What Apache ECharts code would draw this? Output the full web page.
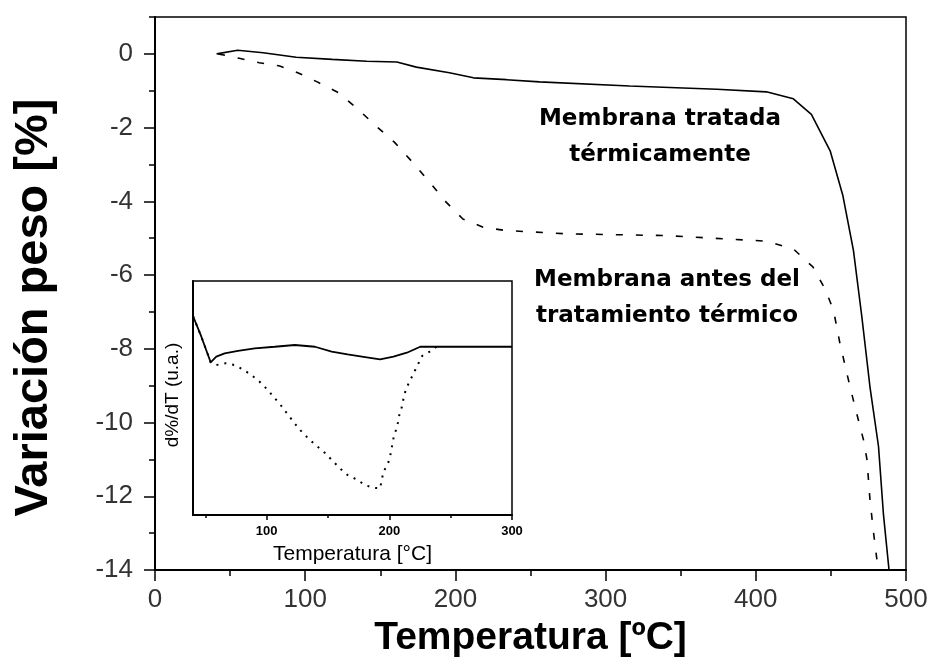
<!DOCTYPE html>
<html>
<head>
<meta charset="utf-8">
<script src="https://cdn.jsdelivr.net/npm/echarts@6/dist/echarts.min.js"></script>
<style>
  html, body { margin: 0; padding: 0; background: #fff; }
  #chart { width: 933px; height: 670px; }
</style>
</head>
<body>
<div id="chart"></div>
<script>
// Termogravimetría: variación de peso frente a temperatura
const tempTratada = [41, 55, 72, 94, 118, 141, 161, 174, 196, 212, 234, 256, 316, 374, 407, 425, 437, 449.5, 458, 465, 470.6, 476, 481.7, 485, 488.7];
const pesoTratada = [0, 0.1, 0.03, -0.09, -0.15, -0.2, -0.22, -0.36, -0.51, -0.65, -0.7, -0.76, -0.87, -0.96, -1.03, -1.22, -1.64, -2.63, -3.85, -5.33, -7.13, -9.03, -10.65, -12.5, -14];

const tempAntes = [42, 56, 69.5, 83, 95, 108, 122, 134, 147, 159.5, 171.7, 183, 194, 205, 218.4, 233, 274, 340.6, 407, 425, 438, 446, 451.7, 456, 461.7, 466, 471.7, 474, 476, 478.4, 480.6];
const pesoAntes = [0, -0.12, -0.24, -0.33, -0.51, -0.76, -1.05, -1.46, -1.95, -2.4, -2.95, -3.49, -4.03, -4.48, -4.7, -4.79, -4.88, -4.93, -5.08, -5.29, -5.78, -6.37, -6.95, -7.85, -8.85, -9.57, -10.47, -11.0, -12.09, -12.99, -13.71];

// Derivada (d%/dT), unidades arbitrarias
const insetTempTratada = [40, 46.8, 54.4, 59, 65.8, 76.7, 90.3, 106.6, 123, 139.4, 153, 166, 181.6, 192.5, 203.4, 214.3, 225.2, 300];
const insetTratada = [-2.99, -4.76, -6.95, -6.47, -6.18, -5.98, -5.75, -5.62, -5.47, -5.62, -6.04, -6.28, -6.52, -6.69, -6.47, -6.13, -5.62, -5.62];

const insetTempAntes = [40, 46.8, 54.4, 59, 67, 73.8, 80.6, 87.5, 94.3, 100.5, 106, 112, 117, 122.4, 127.8, 134.4, 140.6, 147.4, 153.7, 160.3, 166.5, 173.4, 180.2, 187, 192.5, 195.2, 198.8, 200.7, 203.4, 205.4, 207, 208.3, 210.3, 211.6, 213.5, 216.5, 219.8, 223.4, 226.7, 232.9, 239.7];
const insetAntes = [-2.99, -4.76, -6.95, -7.18, -7.03, -7.18, -7.55, -8.03, -8.61, -9.26, -9.94, -10.68, -11.37, -12.11, -12.79, -13.5, -14.08, -14.68, -15.36, -16.07, -16.64, -16.95, -17.44, -17.67, -17.72, -16.3, -15.64, -14.96, -13.44, -12.74, -12.11, -11.39, -10.74, -10.03, -9.26, -8.59, -7.89, -7.12, -6.41, -6.04, -5.53];

// Marcas de los ejes
const xMajor = [0, 100, 200, 300, 400, 500];
const yMajor = [-14, -12, -10, -8, -6, -4, -2, 0];
const insetXMajor = [100, 200, 300];
const insetXMinor = [50, 150, 250];

const pairs = (xs, ys) => xs.map((x, i) => [x, ys[i]]);

const black = '#000';
const sans = 'Liberation Sans, Arial, sans-serif';
const tickFont = { fontFamily: sans, fontSize: 26, color: '#333' };

const chart = echarts.init(document.getElementById('chart'), null, { renderer: 'canvas' });

chart.setOption({
  backgroundColor: '#fff',
  animation: false,
  grid: [
    { left: 155, top: 17, width: 751, height: 553, show: true, borderColor: black, borderWidth: 1.5, backgroundColor: '#fff' },
    { left: 193, top: 281, width: 319, height: 234, show: true, borderColor: black, borderWidth: 1.5, backgroundColor: '#fff', z: 5 }
  ],
  xAxis: [
    {
      gridIndex: 0, type: 'value', position: 'bottom', min: 0, max: 500,
      name: 'Temperatura [ºC]', nameLocation: 'middle', nameGap: 49,
      nameTextStyle: { fontFamily: sans, fontWeight: 'bold', fontSize: 39, color: black },
      axisLine: { onZero: false, lineStyle: { color: black, width: 2 } },
      axisTick: { customValues: xMajor, length: 11, lineStyle: { color: black, width: 1.5 } },
      axisLabel: Object.assign({ customValues: xMajor, margin: 17 }, tickFont),
      splitLine: { show: false }
    },
    {
      gridIndex: 0, type: 'value', position: 'bottom', min: 0, max: 500, interval: 50,
      axisLine: { show: false, onZero: false },
      axisTick: { length: 6, lineStyle: { color: black, width: 1.5 } },
      axisLabel: { show: false },
      splitLine: { show: false }
    },
    {
      gridIndex: 1, type: 'value', position: 'bottom', min: 40, max: 300,
      name: 'Temperatura [°C]', nameLocation: 'middle', nameGap: 29,
      nameTextStyle: { fontFamily: sans, fontSize: 21, color: black },
      axisLine: { onZero: false, lineStyle: { color: black, width: 2 } },
      axisTick: { customValues: insetXMajor, length: 5, lineStyle: { color: black, width: 1.5 } },
      axisLabel: { customValues: insetXMajor, margin: 10, fontFamily: sans, fontWeight: 'bold', fontSize: 13, color: black },
      splitLine: { show: false }, z: 6
    },
    {
      gridIndex: 1, type: 'value', position: 'bottom', min: 40, max: 300,
      axisLine: { show: false, onZero: false },
      axisTick: { customValues: insetXMinor, length: 3, lineStyle: { color: black, width: 1.5 } },
      axisLabel: { show: false },
      splitLine: { show: false }, z: 6
    }
  ],
  yAxis: [
    {
      gridIndex: 0, type: 'value', position: 'left', min: -14, max: 1,
      name: 'Variación peso [%]', nameLocation: 'middle', nameGap: 97,
      nameTextStyle: { fontFamily: sans, fontWeight: 'bold', fontSize: 47, color: black, padding: [0, 28, 0, 0] },
      axisLine: { onZero: false, lineStyle: { color: black, width: 2 } },
      axisTick: { customValues: yMajor, length: 11, lineStyle: { color: black, width: 1.5 } },
      axisLabel: Object.assign({ customValues: yMajor, margin: 22 }, tickFont),
      splitLine: { show: false }
    },
    {
      gridIndex: 0, type: 'value', position: 'left', min: -14, max: 1, interval: 1,
      axisLine: { show: false, onZero: false },
      axisTick: { length: 6, lineStyle: { color: black, width: 1.5 } },
      axisLabel: { show: false },
      splitLine: { show: false }
    },
    {
      gridIndex: 1, type: 'value', position: 'left', min: -20, max: 0,
      name: 'd%/dT (u.a.)', nameLocation: 'middle', nameGap: 11,
      nameTextStyle: { fontFamily: sans, fontSize: 19, color: black, padding: [0, 0, 0, 6] },
      axisLine: { onZero: false, lineStyle: { color: black, width: 2 } },
      axisTick: { show: false },
      axisLabel: { show: false },
      splitLine: { show: false }, z: 6
    }
  ],
  series: [
    {
      name: 'Membrana tratada térmicamente', type: 'line', xAxisIndex: 0, yAxisIndex: 0,
      data: pairs(tempTratada, pesoTratada), showSymbol: false,
      lineStyle: { color: black, width: 1.6 }
    },
    {
      name: 'Membrana antes del tratamiento térmico', type: 'line', xAxisIndex: 0, yAxisIndex: 0,
      data: pairs(tempAntes, pesoAntes), showSymbol: false,
      lineStyle: { color: black, width: 1.6, type: [7, 13] }
    },
    {
      name: 'd%/dT tratada', type: 'line', xAxisIndex: 2, yAxisIndex: 2,
      data: pairs(insetTempTratada, insetTratada), showSymbol: false, z: 7,
      lineStyle: { color: black, width: 1.8 }
    },
    {
      name: 'd%/dT antes', type: 'line', xAxisIndex: 2, yAxisIndex: 2,
      data: pairs(insetTempAntes, insetAntes), showSymbol: false, z: 7,
      lineStyle: { color: black, width: 2, type: [2, 6] }
    }
  ],
  graphic: [
    {
      type: 'text', z: 10,
      style: {
        x: 660, y: 137, text: 'Membrana tratada\ntérmicamente',
        align: 'center', verticalAlign: 'middle', lineHeight: 36,
        font: 'bold 23px "DejaVu Sans", Verdana, sans-serif', fill: black
      }
    },
    {
      type: 'text', z: 10,
      style: {
        x: 667, y: 298, text: 'Membrana antes del\ntratamiento térmico',
        align: 'center', verticalAlign: 'middle', lineHeight: 36,
        font: 'bold 23px "DejaVu Sans", Verdana, sans-serif', fill: black
      }
    }
  ]
});
</script>
</body>
</html>
